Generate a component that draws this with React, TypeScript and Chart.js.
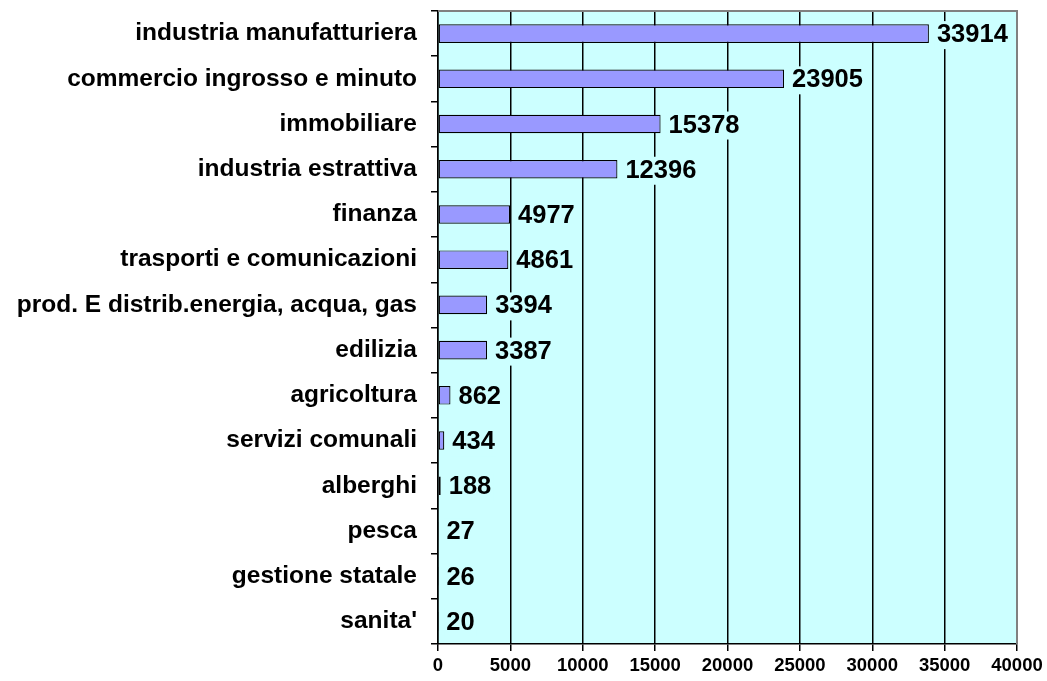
import React, { useEffect, useRef } from "react";
import { Chart, registerables } from "chart.js";

Chart.register(...registerables);

const categories = [
  "industria manufatturiera",
  "commercio ingrosso e minuto",
  "immobiliare",
  "industria estrattiva",
  "finanza",
  "trasporti e comunicazioni",
  "prod. E distrib.energia, acqua, gas",
  "edilizia",
  "agricoltura",
  "servizi comunali",
  "alberghi",
  "pesca",
  "gestione statale",
  "sanita'",
];
const values = [33914, 23905, 15378, 12396, 4977, 4861, 3394, 3387, 862, 434, 188, 27, 26, 20];
const xTicks = [0, 5000, 10000, 15000, 20000, 25000, 30000, 35000, 40000];

const PLOT_BG = "#CCFFFF";
const BAR_COLOR = "#9999FF";
const FONT = "'Liberation Sans', Arial, sans-serif";

const bgPlugin = {
  id: "bgPlugin",
  beforeDraw(chart: any) {
    const { ctx, chartArea } = chart;
    ctx.save();
    ctx.fillStyle = PLOT_BG;
    ctx.fillRect(chartArea.left, chartArea.top, chartArea.right - chartArea.left, chartArea.bottom - chartArea.top);
    ctx.restore();
  },
  afterDraw(chart: any) {
    const { ctx, chartArea } = chart;
    ctx.save();
    ctx.strokeStyle = "#808080";
    ctx.lineWidth = 2;
    ctx.beginPath();
    ctx.moveTo(chartArea.left, chartArea.top);
    ctx.lineTo(chartArea.right, chartArea.top);
    ctx.lineTo(chartArea.right, chartArea.bottom);
    ctx.stroke();
    ctx.restore();
  },
};

const labelPlugin = {
  id: "labelPlugin",
  afterDatasetsDraw(chart: any) {
    const { ctx } = chart;
    const meta = chart.getDatasetMeta(0);
    ctx.save();
    ctx.font = `bold 25.5px ${FONT}`;
    ctx.textBaseline = "middle";
    ctx.textAlign = "left";
    meta.data.forEach((bar: any, i: number) => {
      const txt = String(values[i]);
      const x = bar.x + 8;
      const y = bar.y + 1.5;
      const w = ctx.measureText(txt).width;
      ctx.fillStyle = PLOT_BG;
      ctx.fillRect(x - 2, y - 14, w + 4, 28);
      ctx.fillStyle = "#000";
      ctx.fillText(txt, x, y);
    });
    ctx.restore();
  },
};

export default function App() {
  const ref = useRef<HTMLCanvasElement>(null);
  useEffect(() => {
    document.body.style.margin = "0";
    const chart = new Chart(ref.current!, {
      type: "bar",
      data: {
        labels: categories,
        datasets: [
          {
            data: values,
            backgroundColor: BAR_COLOR,
            borderColor: "#000",
            borderWidth: 1.2,
            borderSkipped: false,
            barPercentage: 0.41,
            categoryPercentage: 1,
          },
        ],
      },
      options: {
        indexAxis: "y",
        animation: false,
        responsive: false,
        layout: { padding: { top: 11, right: 30, left: 0, bottom: 0 } },
        plugins: { legend: { display: false }, tooltip: { enabled: false } },
        scales: {
          x: {
            min: 0,
            max: 40000,
            afterBuildTicks: (scale: any) => {
              scale.ticks = xTicks.map((v) => ({ value: v }));
            },
            afterFit: (scale: any) => {
              scale.height = 37;
            },
            ticks: {
              color: "#000",
              font: { family: FONT, weight: "bold", size: 18.5 },
              padding: 4,
              maxRotation: 0,
              callback: (v: any) => String(v),
            },
            grid: { color: "#000", lineWidth: 1.5, tickLength: 7, drawOnChartArea: true },
            border: { color: "#000", width: 1.5 },
          },
          y: {
            afterFit: (scale: any) => {
              scale.width = 438;
              scale.paddingTop = 0;
              scale.paddingBottom = 0;
            },
            ticks: {
              color: "#000",
              font: { family: FONT, weight: "bold", size: 24.5 },
              padding: 14,
              autoSkip: false,
            },
            grid: { offset: true, drawOnChartArea: false, color: "#000", lineWidth: 1.5, tickLength: 7 },
            border: { color: "#000", width: 1.5 },
          },
        },
      },
      plugins: [bgPlugin, labelPlugin],
    } as any);
    return () => chart.destroy();
  }, []);
  return (
    <div style={{ width: 1047, height: 681, background: "#fff" }}>
      <canvas ref={ref} width={1047} height={681} style={{ display: "block" }} />
    </div>
  );
}
